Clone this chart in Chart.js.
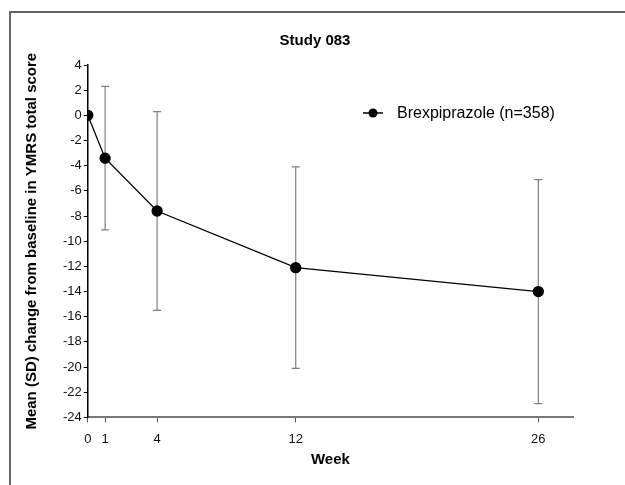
<!DOCTYPE html>
<html>
<head>
<meta charset="utf-8">
<script src="https://cdn.jsdelivr.net/npm/chart.js@4.4.1/dist/chart.umd.min.js"></script>
<style>
  html, body { margin: 0; padding: 0; background: #fff; }
  #wrap { position: relative; width: 625px; height: 485px; }
  #frame { position: absolute; left: 9px; top: 11px; width: 620px; height: 480px;
           border-left: 2px solid #666; border-top: 2px solid #666; }
  canvas { position: absolute; left: 0; top: 0; }
</style>
</head>
<body>
<div id="wrap">
  <div id="frame"></div>
  <canvas id="chart" width="625" height="485"></canvas>
</div>
<script>
// Dữ liệu
const weeks = [0, 1, 4, 12, 26];
const meanChange = [0, -3.4, -7.6, -12.1, -14.0];
const sdUpper = [0, 2.3, 0.3, -4.1, -5.1];
const sdLower = [0, -9.1, -15.5, -20.1, -22.9];
const xTicks = [0, 1, 4, 12, 26];
const seriesLabel = 'Brexpiprazole (n=358)';

const FONT = 'Arial, "Liberation Sans", Helvetica, sans-serif';

// Vẽ thanh sai số (SD) theo trục của biểu đồ
const errorBars = {
    id: 'errorBars',
    beforeDatasetsDraw(chart) {
        const { ctx, scales: { x, y } } = chart;
        ctx.save();
        ctx.strokeStyle = '#808080';
        ctx.lineWidth = 1.2;
        weeks.forEach((w, i) => {
            if (sdUpper[i] === sdLower[i]) return;
            const px = x.getPixelForValue(w);
            const top = y.getPixelForValue(sdUpper[i]);
            const bot = y.getPixelForValue(sdLower[i]);
            ctx.beginPath();
            ctx.moveTo(px, top); ctx.lineTo(px, bot);
            ctx.moveTo(px - 4, top); ctx.lineTo(px + 4, top);
            ctx.moveTo(px - 4, bot); ctx.lineTo(px + 4, bot);
            ctx.stroke();
        });
        ctx.restore();
    }
};

// Tiêu đề và chú thích
const overlay = {
    id: 'overlay',
    afterDraw(chart) {
        const { ctx } = chart;
        ctx.save();
        ctx.fillStyle = '#000';
        ctx.font = 'bold 15px ' + FONT;
        ctx.textAlign = 'center';
        ctx.textBaseline = 'middle';
        ctx.fillText('Study 083', 315, 41);

        // legend
        const lx = 373, ly = 113;
        ctx.strokeStyle = '#000';
        ctx.lineWidth = 1.5;
        ctx.beginPath(); ctx.moveTo(lx - 10, ly); ctx.lineTo(lx + 10, ly); ctx.stroke();
        ctx.beginPath(); ctx.arc(lx, ly, 4.5, 0, Math.PI * 2); ctx.fill();
        ctx.font = '16px ' + FONT;
        ctx.textAlign = 'left';
        ctx.fillText(seriesLabel, 397, ly + 1);
        ctx.restore();
    }
};

new Chart(document.getElementById('chart'), {
    type: 'line',
    data: {
        datasets: [{
            label: seriesLabel,
            data: weeks.map((w, i) => ({ x: w, y: meanChange[i] })),
            borderColor: '#000',
            backgroundColor: '#000',
            borderWidth: 1.3,
            pointRadius: 5,
            pointHoverRadius: 5,
            tension: 0
        }]
    },
    options: {
        responsive: false,
        animation: false,
        events: [],
        layout: { padding: { top: 65, left: 19, right: 52, bottom: 16 } },
        plugins: { legend: { display: false }, title: { display: false }, tooltip: { enabled: false } },
        scales: {
            x: {
                type: 'linear', min: 0, max: 28,
                afterBuildTicks: (s) => { s.ticks = xTicks.map(v => ({ value: v })); },
                grid: { drawOnChartArea: false, drawTicks: true, tickLength: 5, color: '#555' },
                border: { display: true, color: '#777', width: 2 },
                ticks: { color: '#111', font: { size: 13, family: FONT }, padding: 9, maxRotation: 0, autoSkip: false },
                title: { display: true, text: 'Week', color: '#000', font: { size: 15, weight: 'bold', family: FONT }, padding: { top: -5, bottom: 0 } }
            },
            y: {
                min: -24, max: 4,
                ticks: { stepSize: 2, color: '#111', font: { size: 13, family: FONT }, padding: 2 },
                grid: { drawOnChartArea: false, drawTicks: true, tickLength: 4, color: '#000' },
                border: { display: true, color: '#000', width: 1.5 },
                title: { display: true, text: 'Mean (SD) change from baseline in YMRS total score', color: '#000', font: { size: 15, weight: 'bold', family: FONT }, padding: { top: 4, bottom: 20 } }
            }
        }
    },
    plugins: [errorBars, overlay]
});
</script>
</body>
</html>
